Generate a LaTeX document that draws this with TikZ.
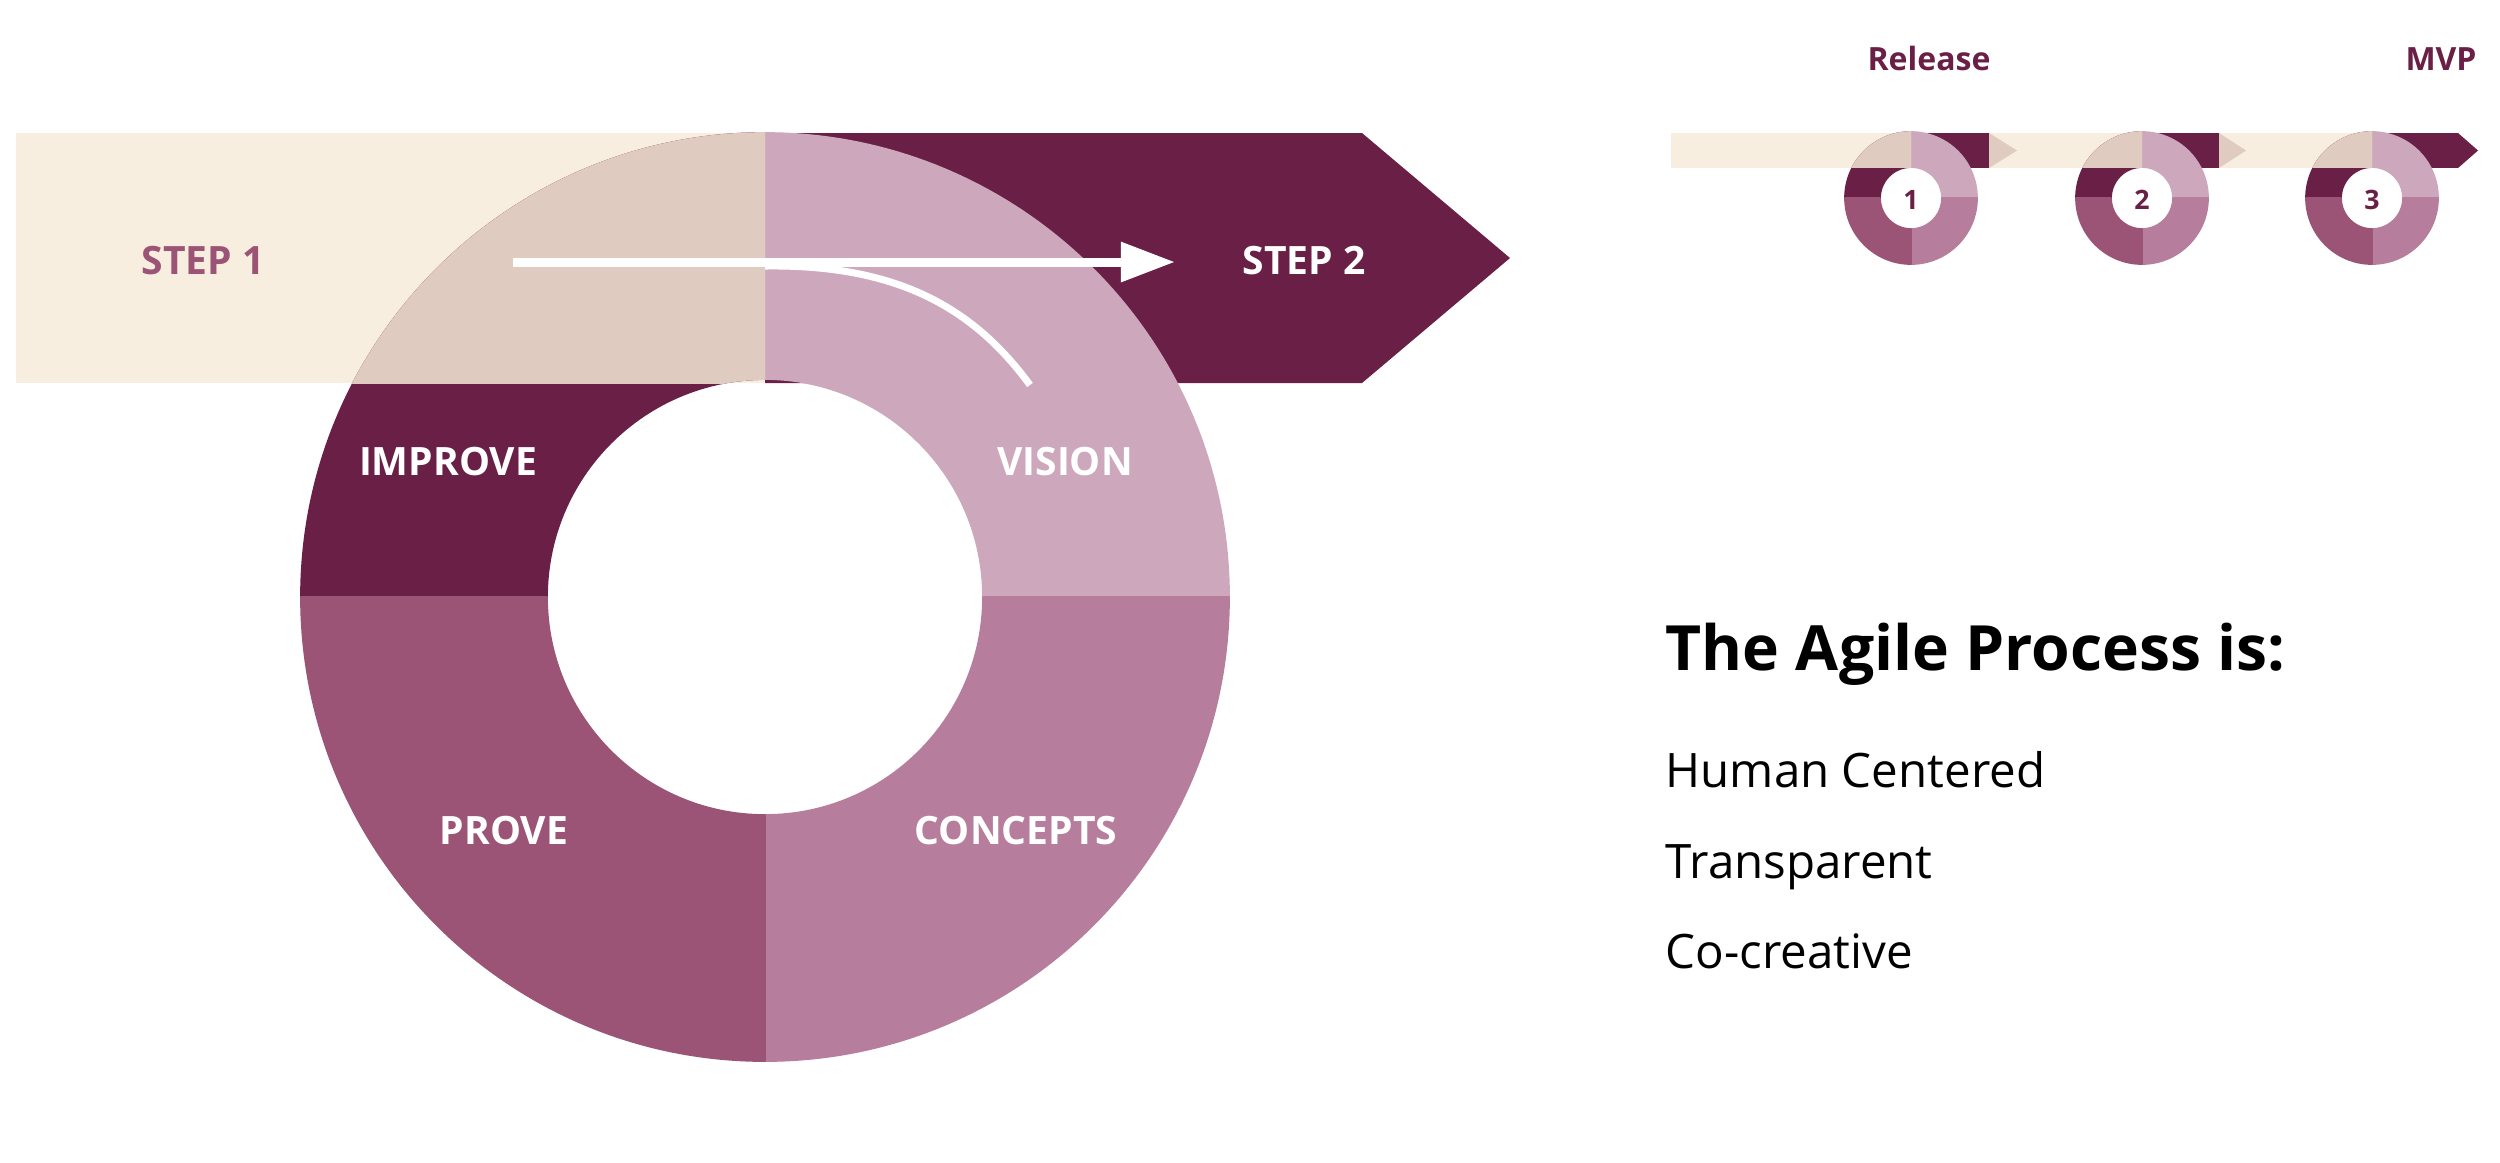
\documentclass[tikz,border=0pt]{standalone}
\usepackage{fontspec}
\setmainfont{Open Sans}
\usetikzlibrary{arrows.meta,positioning}

\definecolor{bandbeige}{HTML}{F8EEDF}
\definecolor{overlapbeige}{HTML}{DFCBBF}
\definecolor{plumdark}{HTML}{6A2046}
\definecolor{visionpink}{HTML}{CDA7BC}
\definecolor{conceptsrose}{HTML}{B67E9C}
\definecolor{provemauve}{HTML}{9B5376}

\begin{document}
\begin{tikzpicture}[
  x=0.01cm, y=0.01cm,
  seg/.style={line width=0.5pt, line join=round},
  phase/.style={font=\fontsize{11.1}{13}\selectfont\bfseries, text=white,
                inner sep=0pt, anchor=base},
  milestone/.style={font=\fontsize{9.1}{11}\selectfont\bfseries, text=plumdark,
                    inner sep=0pt, anchor=base},
  ringnum/.style={font=\fontsize{7.6}{9}\selectfont\bfseries, text=plumdark, inner sep=0pt},
  heading/.style={font=\fontsize{17.75}{21}\selectfont\bfseries, inner sep=0pt, anchor=base west},
  trait/.style={font=\fontsize{13.5}{16}\selectfont, inner sep=0pt, anchor=base west},
  flowarrow/.style={white, line width=2.56pt, -{Triangle[length=5.4mm, width=3.8mm]}},
  loopring/.pic={
    % four quarters of the loop
    \filldraw[seg, plumdark] (0,464) arc[start angle=90, end angle=180, radius=464]
      -- (-218,0) arc[start angle=180, end angle=90, radius=218] -- cycle;
    \filldraw[seg, visionpink] (0,464) arc[start angle=90, end angle=0, radius=464]
      -- (218,0) arc[start angle=0, end angle=90, radius=218] -- cycle;
    \filldraw[seg, conceptsrose] (464,0) arc[start angle=0, end angle=-90, radius=464]
      -- (0,-218) arc[start angle=-90, end angle=0, radius=218] -- cycle;
    \filldraw[seg, provemauve] (0,-464) arc[start angle=-90, end angle=-180, radius=464]
      -- (-218,0) arc[start angle=180, end angle=270, radius=218] -- cycle;
    % part of the loop lying on the band
    \begin{scope}
      \clip (-470,214) rectangle (0,470);
      \filldraw[seg, overlapbeige] (0,464) arc[start angle=90, end angle=180, radius=464]
        -- (-218,0) arc[start angle=180, end angle=90, radius=218] -- cycle;
    \end{scope}
  }
]
\useasboundingbox (0,0) rectangle (2500,-1162);

% big loop
\fill[bandbeige] (16,-133) rectangle (765,-383);
\fill[plumdark] (765,-133) -- (1362,-133) -- (1510,-258) -- (1362,-383) -- (765,-383) -- cycle;
\pic (bigloop) at (765,-597) {loopring};

\coordinate (arrowtail) at (513,-262);
\coordinate (arrowhead) at (1175,-262);
\draw[flowarrow] (arrowtail) -- (arrowhead);
\coordinate (branchstart) at (765,-266);
\coordinate (branchend) at (1030,-385);
\draw[white, line width=2pt] (branchstart) .. controls (900,-264) and (975,-310) .. (branchend);

\node[phase, text=provemauve] (step1) at (203,-274) {STEP 1};
\node[phase] (step2) at (1304,-274) {STEP 2};
\node[phase] (improve) at (448,-475) {IMPROVE};
\node[phase] (vision) at (1065,-475) {VISION};
\node[phase] (prove) at (504,-844) {PROVE};
\node[phase] (concepts) at (1016,-844) {CONCEPTS};

% small loops
\fill[bandbeige] (1671,-133) rectangle (2372,-168);
\foreach \cx/\bodyend/\tipend/\tipcol/\n in {1911/1989/2017/overlapbeige/1,
    2142/2219/2246/overlapbeige/2, 2372/2458/2478/plumdark/3} {
  \fill[plumdark] (\cx,-133) rectangle (\bodyend,-168);
  \fill[\tipcol] (\bodyend,-133) -- (\tipend,-150.5) -- (\bodyend,-168) -- cycle;
  \pic[scale=0.1422] at (\cx,-198) {loopring};
  \node[ringnum] (num\n) at (\cx,-199.5) {\n};
}
\node[milestone] (release) at (1929,-70) {Release};
\node[milestone] (mvp) at (2441,-70) {MVP};

% text block
\node[heading] (agile) at (1665,-670) {The Agile Process is:};
\node[trait] (human) at (1665,-787) {Human Centered};
\node[trait] (transparent) at (1665,-878) {Transparent};
\node[trait] (cocreative) at (1665,-968) {Co-creative};
\end{tikzpicture}
\end{document}
